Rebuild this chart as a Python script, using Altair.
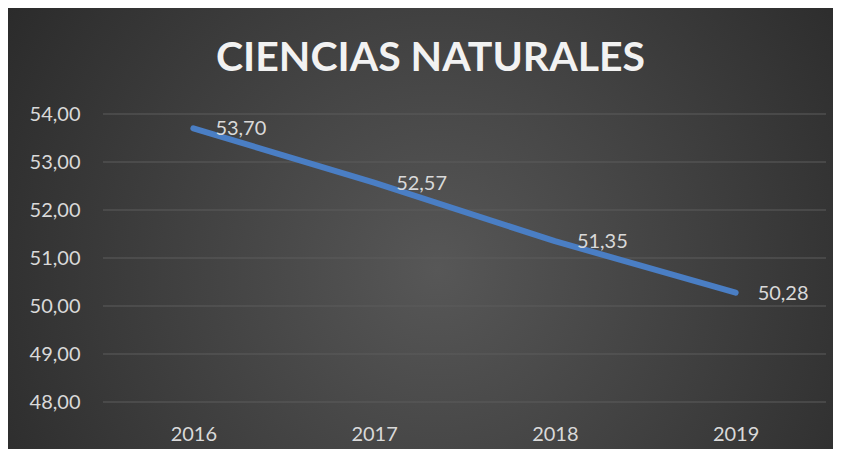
import altair as alt
import pandas as pd

years = ["2016", "2017", "2018", "2019"]
values = [53.70, 52.57, 51.35, 50.28]
title_text = "CIENCIAS NATURALES"
y_ticks = [48, 49, 50, 51, 52, 53, 54]

df = pd.DataFrame({"year": years, "value": values})
df["label"] = [f"{v:.2f}".replace(".", ",") for v in values]
grid_df = pd.DataFrame({"tick": y_ticks})

W, H = 723, 288
PL, PT, PR, PB = 95, 106, 7, 47

FONT = "Lato"
TXT = "#d9d9d9"

bg = alt.Chart(pd.DataFrame({"a": [0]})).mark_rect(
    fill={
        "gradient": "radial",
        "x1": 0.52, "y1": 0.55, "r1": 0,
        "x2": 0.52, "y2": 0.55, "r2": 0.72,
        "stops": [
            {"offset": 0, "color": "#575757"},
            {"offset": 1, "color": "#232323"},
        ],
    }
).encode(
    x=alt.value(-PL), x2=alt.value(W + PR),
    y=alt.value(-PT), y2=alt.value(H + PB),
)

yscale = alt.Scale(domain=[48, 54], nice=False, zero=False)

grid = alt.Chart(grid_df).mark_rule(color="#5c5c5c", strokeWidth=1.2).encode(
    y=alt.Y("tick:Q", scale=yscale), x=alt.value(0), x2=alt.value(W))

x_enc = alt.X("year:N", sort=years, scale=alt.Scale(padding=0.5),
              axis=alt.Axis(title=None, labelAngle=0, domain=False, ticks=False,
                            labelPadding=22, labelFontSize=20, labelColor=TXT,
                            labelFont=FONT, grid=False, zindex=1))
y_enc = alt.Y("value:Q", scale=yscale,
              axis=alt.Axis(title=None, values=y_ticks, domain=False, ticks=False,
                            labelPadding=23, labelFontSize=20, labelColor=TXT,
                            labelFont=FONT, grid=False, zindex=1,
                            labelExpr="replace(format(datum.value, '.2f'), '.', ',')"))

line = alt.Chart(df).mark_line(color="#4a7ec4", strokeWidth=6, strokeCap="round",
                               strokeJoin="round").encode(x=x_enc, y=y_enc)

labels = alt.Chart(df).mark_text(align="left", baseline="middle", dx=22, dy=1,
                                 fontSize=20, font=FONT, color=TXT).encode(
    x=alt.X("year:N", sort=years), y=alt.Y("value:Q"), text="label:N")

title = alt.Chart(pd.DataFrame({"t": [title_text]})).mark_text(
    align="center", baseline="alphabetic", fontSize=41, font=FONT,
    fontWeight="bold", color="#f2f2f2").encode(
    x=alt.value(W / 2 - 34), y=alt.value(-43), text="t:N")

chart = alt.layer(bg, grid, line, labels, title).properties(
    width=W, height=H,
    autosize=alt.AutoSizeParams(type="none"),
    padding={"left": PL, "top": PT, "right": PR, "bottom": PB},
).configure_view(stroke=None).configure(background="#262626")

chart.save("out.html", embed_options={"renderer": "svg", "actions": False})
